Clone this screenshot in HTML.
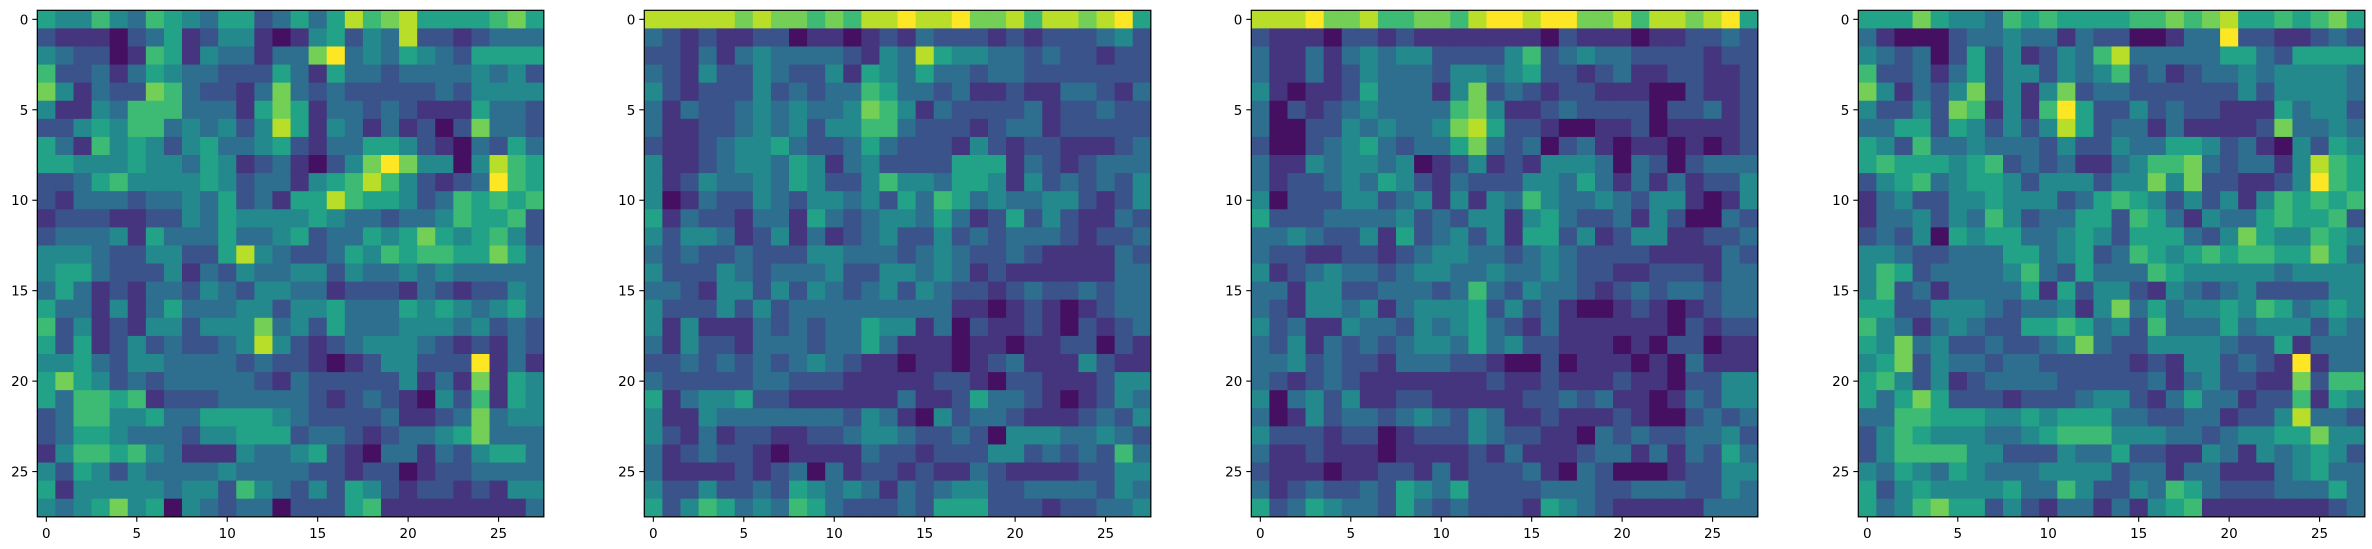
<!DOCTYPE html>
<html><head><meta charset="utf-8"><style>
html,body{margin:0;padding:0;background:#fff;}
svg{display:block;}
text{font-family:"DejaVu Sans","Liberation Sans",sans-serif;font-size:13.5px;fill:#000;}
</style></head><body>
<svg id="fig" width="2372" height="549" viewBox="0 0 2372 549" xmlns="http://www.w3.org/2000/svg"></svg>
<script>
const tickValues = [0,5,10,15,20,25];
const panelLefts = [37.3, 644.3, 1251.3, 1858.3];
const panel1 = [
[5,4,4,6,4,3,6,5,4,3,5,5,2,3,5,3,5,8,6,7,8,5,5,5,5,6,7,5],
[2,1,1,1,0,2,3,5,1,2,4,4,1,0,1,4,5,2,4,3,8,2,2,1,2,3,3,3],
[4,3,2,2,0,1,6,5,1,4,3,3,1,3,3,7,9,3,4,3,5,4,3,2,5,5,5,5],
[6,2,2,3,1,3,5,4,3,3,2,2,2,5,3,1,5,3,3,2,3,3,3,3,4,3,4,2],
[7,4,1,3,2,2,7,6,3,2,2,1,3,7,3,2,3,2,2,2,2,2,3,2,4,4,4,4],
[4,1,1,4,3,6,6,6,3,3,3,1,5,7,5,1,3,3,2,3,2,1,1,1,5,3,3,2],
[2,2,4,5,4,6,6,3,4,3,4,2,4,8,5,1,4,3,1,3,1,2,0,2,7,3,3,2],
[5,3,1,6,4,5,4,2,4,5,3,3,4,5,2,1,3,3,5,5,4,2,1,0,3,2,5,3],
[5,5,4,4,4,5,4,4,3,5,4,1,2,3,1,0,2,4,7,9,7,4,4,0,4,8,6,5],
[2,2,3,5,6,4,4,4,4,5,4,2,3,3,1,4,5,6,8,6,4,2,1,2,3,9,6,5],
[2,1,3,3,3,2,3,3,4,3,5,2,3,1,5,5,8,6,5,5,4,2,3,6,5,6,5,6],
[1,2,2,2,1,1,2,2,4,3,5,4,4,4,4,5,4,3,3,2,3,3,4,6,5,5,6,2],
[2,3,3,3,4,1,5,3,3,3,5,3,3,4,5,2,3,3,5,4,5,7,5,4,5,6,4,2],
[4,4,4,3,2,2,4,4,2,2,5,8,4,3,2,2,3,5,4,6,5,6,6,5,5,7,5,3],
[4,5,5,3,2,2,2,4,1,3,2,4,3,3,4,4,2,4,3,3,4,3,4,3,3,3,3,3],
[3,5,3,1,2,1,3,3,2,4,3,2,4,4,3,3,1,2,2,2,1,3,2,1,2,2,4,3],
[5,3,3,1,4,1,3,5,3,3,3,4,4,2,4,4,5,3,3,3,5,4,5,4,3,4,5,3],
[6,2,4,1,2,1,4,4,2,4,4,4,7,3,4,2,5,3,3,3,4,4,4,3,4,2,3,2],
[5,2,5,1,2,4,2,3,2,2,3,4,8,4,2,1,2,3,4,4,4,3,2,1,2,1,3,2],
[4,4,5,3,2,4,4,3,3,3,3,2,3,2,2,1,0,1,2,4,4,2,2,2,9,1,3,1],
[5,7,5,4,2,3,2,3,3,3,3,3,2,1,3,2,2,2,2,2,4,1,3,1,7,1,5,4],
[5,3,6,6,5,6,1,2,2,2,3,3,3,3,3,2,1,2,3,2,1,0,4,2,6,1,5,4],
[2,3,6,6,4,4,5,3,3,5,5,5,5,4,3,2,2,2,2,3,1,1,2,3,7,3,4,4],
[2,3,5,5,4,3,3,3,2,4,4,5,5,5,2,3,3,2,1,2,3,3,4,5,7,3,3,3],
[1,4,6,6,5,6,4,3,1,1,1,4,3,3,4,5,2,1,0,3,3,1,3,2,4,5,5,3],
[4,2,5,4,2,4,3,3,3,3,4,3,3,3,3,2,2,1,2,2,0,1,2,2,3,3,3,3],
[5,1,4,4,4,4,4,3,4,4,2,6,4,3,2,4,2,5,4,2,1,2,2,1,2,1,4,4],
[4,3,4,5,7,4,5,0,4,3,2,3,3,0,2,2,2,5,6,1,1,1,1,1,1,1,1,3]
];
const panel2 = [
[8,8,8,8,8,7,8,7,7,6,7,6,8,8,9,8,8,9,7,7,8,6,8,8,7,8,9,5],
[3,2,1,2,1,1,2,2,0,1,1,0,1,2,1,3,2,2,2,1,2,1,2,2,2,3,4,2],
[2,2,1,3,1,3,4,3,3,3,3,2,1,4,3,8,5,4,4,3,3,2,3,2,2,1,2,2],
[3,2,1,4,2,2,4,3,2,2,4,1,5,4,3,5,3,3,2,3,3,2,2,2,2,2,2,2],
[4,2,1,2,2,2,4,2,3,2,3,3,6,5,3,3,2,3,1,1,2,1,1,3,3,2,1,3],
[3,1,3,2,2,3,4,3,4,3,3,4,7,6,4,1,3,2,2,2,2,3,1,2,2,3,2,2],
[3,1,1,2,2,3,4,3,4,2,4,4,6,6,3,2,2,2,1,2,3,3,1,2,2,2,2,2],
[2,1,1,2,3,4,4,5,3,2,2,3,5,3,2,2,2,1,4,2,1,2,2,1,1,1,2,3],
[4,1,1,2,3,4,4,3,5,4,1,3,4,2,2,2,2,5,5,5,1,3,2,1,2,3,3,3],
[4,1,2,4,3,3,4,3,5,4,2,2,4,6,4,4,3,5,5,4,1,4,2,3,2,3,2,4],
[4,0,1,3,2,2,4,3,2,4,4,3,4,2,5,3,6,5,3,4,3,3,4,4,2,1,2,4],
[5,1,3,2,2,1,3,3,1,5,3,2,3,4,4,3,5,3,1,2,5,2,4,2,1,1,3,2],
[4,2,4,4,3,1,2,4,1,3,1,2,3,4,2,2,4,2,3,2,3,3,3,2,1,2,2,3],
[3,2,3,2,2,3,2,2,2,4,4,3,3,3,2,3,4,3,2,2,3,2,1,1,1,1,3,2],
[4,2,2,2,4,3,2,3,3,3,4,2,2,4,4,3,4,3,1,2,1,1,1,1,1,1,3,3],
[3,3,2,1,4,4,2,4,2,4,3,2,3,4,2,4,3,2,2,1,2,3,2,2,3,2,3,3],
[4,2,2,2,4,2,4,2,3,3,3,3,3,3,3,3,3,1,1,0,1,2,1,0,1,2,3,3],
[4,1,4,1,1,1,3,2,3,2,3,3,5,4,4,1,3,0,2,1,1,2,1,0,2,1,2,3],
[3,1,4,2,2,1,3,3,3,2,3,3,5,3,1,1,1,0,1,1,0,1,1,2,2,0,2,1],
[2,2,3,2,3,2,3,2,3,4,3,2,1,1,0,1,1,0,1,2,3,1,1,1,4,2,1,1],
[3,2,2,2,2,2,3,3,2,2,2,1,1,1,1,1,2,2,1,0,2,2,1,1,1,2,4,4],
[5,1,3,4,4,5,2,2,1,1,1,1,1,1,3,1,1,2,5,3,3,2,1,0,1,2,4,3],
[4,1,1,4,3,3,3,3,3,3,3,2,4,3,1,0,4,2,3,3,2,1,1,1,2,3,2,4],
[4,2,1,3,1,2,2,1,1,2,2,3,4,4,3,2,2,3,2,0,4,4,4,3,3,4,3,2],
[3,1,2,3,2,2,1,0,1,1,1,1,3,2,2,1,2,2,2,4,4,2,3,2,3,2,6,3],
[3,1,1,1,1,2,1,2,3,0,3,1,2,2,1,2,1,1,3,2,1,1,1,1,2,2,4,4],
[4,2,2,4,2,2,3,2,5,4,3,4,3,1,3,2,3,4,4,2,2,3,3,3,3,2,4,3],
[5,2,4,6,5,3,4,3,6,5,3,2,2,2,3,2,5,5,5,2,2,2,1,2,2,3,3,4]
];
const panel3 = [
[8,8,8,9,7,7,8,6,6,7,7,6,8,9,9,8,9,9,7,7,8,6,8,8,7,8,9,5],
[2,1,1,1,0,2,2,1,2,1,1,1,1,1,1,1,0,2,1,1,1,0,1,1,2,2,3,2],
[3,1,1,3,1,3,4,3,4,4,2,2,2,2,4,6,2,3,4,3,3,2,2,2,2,1,2,2],
[3,1,1,3,1,2,4,3,3,3,2,4,4,3,4,5,2,2,1,2,3,1,1,2,2,1,1,2],
[4,1,0,1,1,2,5,3,3,3,1,4,7,2,3,2,1,2,2,1,1,1,0,0,2,1,1,2],
[3,0,2,1,2,3,4,3,3,3,3,6,7,4,1,1,2,3,2,2,2,2,0,2,2,3,1,2],
[3,0,0,2,2,4,3,4,3,3,4,7,8,5,2,2,1,0,0,1,1,2,0,1,1,1,1,2],
[2,0,0,2,3,4,5,3,2,3,3,5,7,3,2,3,0,2,3,1,0,1,1,0,1,0,1,2],
[3,1,1,4,3,4,4,3,4,0,1,2,4,1,2,1,4,4,4,3,0,3,2,0,2,3,3,3],
[3,1,2,2,3,4,3,5,4,2,1,3,2,2,2,4,4,3,5,3,1,3,1,3,1,2,2,4],
[4,0,2,2,2,4,4,2,3,4,1,4,1,4,3,6,4,3,3,4,3,2,4,4,1,0,1,4],
[5,2,2,2,3,3,3,3,4,2,3,2,4,4,1,4,5,3,2,2,3,1,4,2,0,0,3,2],
[3,3,4,3,2,2,4,1,5,2,3,4,2,4,1,5,5,2,4,1,2,4,4,1,1,2,2,3],
[3,2,2,1,1,2,2,1,2,3,4,4,3,3,2,3,4,3,2,2,2,2,1,1,1,1,3,2],
[4,1,2,3,4,3,3,2,3,4,4,3,3,4,3,3,4,3,2,2,1,1,2,2,2,1,3,3],
[3,3,1,4,4,2,2,3,3,3,2,3,6,3,2,4,3,3,2,1,2,3,2,3,3,2,3,3],
[3,2,1,4,4,3,4,1,3,4,4,4,5,2,4,2,3,1,0,0,1,2,1,0,1,2,3,3],
[4,2,3,1,1,4,3,3,2,4,3,4,5,3,2,1,3,1,1,1,1,1,1,0,2,1,2,2],
[3,2,4,1,3,2,3,2,3,4,4,3,5,3,4,2,2,1,1,1,0,1,0,2,2,0,1,1],
[3,3,4,2,3,2,2,1,3,3,3,2,2,1,0,0,2,0,1,1,1,0,1,0,3,1,1,1],
[3,2,1,2,3,2,1,1,1,1,1,1,1,2,1,1,2,1,1,1,2,1,1,0,2,2,4,4],
[4,0,3,4,2,4,1,1,2,2,1,1,1,1,1,2,2,3,2,3,1,1,0,1,3,2,4,4],
[3,0,1,4,2,3,3,2,3,4,3,2,4,3,1,1,2,1,1,1,2,1,0,0,2,3,2,3],
[4,2,2,2,1,2,2,0,1,2,2,2,4,3,2,2,1,1,0,3,2,3,2,2,3,3,4,2],
[3,1,1,2,1,1,1,0,1,1,1,1,2,1,3,1,1,1,2,3,3,1,3,1,3,2,5,3],
[2,1,1,1,0,1,1,2,2,1,3,1,2,2,2,3,1,0,3,2,0,0,0,1,2,2,4,4],
[3,1,2,3,2,2,3,2,5,4,3,5,2,2,2,2,3,3,3,2,2,3,3,3,2,2,4,3],
[5,2,3,5,4,3,3,2,5,3,2,3,2,2,2,1,5,4,3,2,1,1,1,1,1,3,3,3]
];
const panel4 = [
[5,5,5,7,5,4,4,3,6,5,6,5,5,5,5,6,6,7,6,7,8,5,5,6,5,6,7,5],
[3,1,0,0,0,2,3,3,4,3,3,1,3,2,2,0,0,1,3,3,9,2,2,1,1,2,3,2],
[4,3,2,3,0,2,5,2,4,1,2,4,3,6,8,3,3,3,3,3,5,5,3,2,5,5,5,5],
[6,2,2,3,1,3,5,2,4,4,2,4,3,4,6,2,3,1,2,3,3,4,3,4,4,4,4,3],
[7,4,1,3,2,4,7,2,4,1,4,7,2,3,3,2,2,2,2,2,2,4,2,4,4,4,4,3],
[4,2,2,4,2,7,6,1,4,1,6,9,5,2,2,4,2,3,2,2,1,1,1,5,3,4,4,2],
[3,3,5,5,2,5,4,2,4,2,4,8,5,2,3,3,1,3,1,1,1,1,2,7,3,3,4,3],
[5,4,2,6,3,3,4,3,3,3,2,4,2,2,4,3,3,5,5,4,2,3,1,0,4,2,5,4],
[5,6,5,5,5,4,5,6,2,3,2,3,1,1,3,4,6,6,7,3,2,3,3,1,4,8,6,5],
[2,4,5,6,3,4,5,5,4,2,4,4,4,2,4,4,7,4,7,2,2,1,1,2,4,9,6,5],
[1,3,4,2,2,4,4,5,4,4,4,2,3,5,6,5,4,2,4,2,4,1,4,6,5,6,5,6],
[1,3,3,4,2,4,3,6,4,2,3,3,5,5,2,6,5,3,1,4,3,3,5,6,5,5,6,2],
[2,3,2,4,0,5,4,5,5,3,3,4,5,4,2,5,5,5,3,2,4,7,5,4,4,6,5,4],
[4,4,3,2,2,3,3,3,5,5,3,4,5,2,3,6,5,4,5,6,5,6,6,5,5,7,5,3],
[4,6,5,2,3,3,3,3,4,6,3,2,5,3,3,3,6,5,4,4,4,4,4,3,4,4,4,4],
[4,6,2,3,1,3,3,3,3,5,1,5,2,4,4,2,1,4,3,2,3,4,2,2,2,2,4,4],
[5,5,2,2,4,4,4,3,2,3,3,4,1,4,7,3,5,3,4,4,5,4,6,5,3,4,5,4],
[6,4,3,1,3,4,3,2,2,5,5,6,5,3,4,2,6,3,3,3,5,3,4,4,4,2,4,3],
[5,4,7,3,4,2,2,3,2,2,3,4,7,3,2,2,4,4,4,4,3,2,2,5,1,3,3,3],
[4,5,7,2,4,3,3,2,3,3,2,2,2,2,2,1,2,1,4,4,2,3,2,1,9,1,3,3],
[5,6,4,2,4,1,2,3,3,3,3,2,2,2,2,2,3,1,3,4,2,2,1,1,7,2,6,6],
[5,3,5,7,5,2,2,2,1,2,2,2,3,4,4,2,1,3,5,3,3,1,2,2,6,1,5,4],
[3,3,6,6,5,5,5,4,4,5,4,5,5,5,3,3,2,2,3,3,1,2,2,4,8,3,3,2],
[2,4,6,5,4,4,4,3,3,4,5,6,6,6,4,4,4,3,3,2,3,4,4,5,5,7,4,4],
[2,4,6,6,6,6,4,4,2,2,2,4,3,3,5,2,2,1,1,4,3,1,4,3,4,5,4,2],
[4,3,5,4,3,5,4,3,3,3,4,4,4,4,2,3,3,1,3,3,1,1,1,3,4,5,3,3],
[5,2,4,5,4,4,4,4,5,3,3,6,4,2,2,4,3,6,5,3,2,2,2,3,3,3,5,3],
[5,3,4,6,7,5,5,2,4,2,1,3,3,1,3,1,4,5,6,1,1,1,1,1,1,1,2,3]
];
const panels = [panel1, panel2, panel3, panel4];

const NS = 'http://www.w3.org/2000/svg';
const svg = document.getElementById('fig');
const TOP = 10.3, SIZE = 506.5, N = 28, VMAX = 9;
const cell = SIZE / N;
const viridis = ['#440154','#482475','#414487','#355f8d','#2a788e','#21918c','#22a884','#44bf70','#7ad151','#bddf26','#fde725'];
function hex(c){return [parseInt(c.slice(1,3),16),parseInt(c.slice(3,5),16),parseInt(c.slice(5,7),16)];}
function color(v){
  const t = Math.max(0, Math.min(1, (v + 0.4) / (VMAX + 0.4))) * (viridis.length - 1);
  const i = Math.min(Math.floor(t), viridis.length - 2), f = t - i;
  const a = hex(viridis[i]), b = hex(viridis[i+1]);
  return 'rgb(' + a.map((x,k)=>Math.round(x + (b[k]-x)*f)).join(',') + ')';
}
function mk(tag, attrs){const e=document.createElementNS(NS,tag);for(const k in attrs)e.setAttribute(k,attrs[k]);return e;}

panels.forEach((data, p) => {
  const left = panelLefts[p];
  const xScale = c => left + c * cell;
  const yScale = r => TOP + r * cell;
  const g = mk('g', {});
  
  
  svg.appendChild(g);
  data.forEach((row, r) => row.forEach((v, c) => {
    const rect = mk('rect', {x: xScale(c), y: yScale(r), width: cell + 0.6, height: cell + 0.6, fill: color(v)});
    
    
    g.appendChild(rect);
  }));
  const frame = mk('rect', {x: left, y: TOP, width: SIZE, height: SIZE, fill: 'none', stroke: '#000', 'stroke-width': 1.2});
  
  
  g.appendChild(frame);
  tickValues.forEach(t => {
    const cx = xScale(t + 0.5), cy = yScale(t + 0.5);
    const xt = mk('line', {x1: cx, x2: cx, y1: TOP + SIZE, y2: TOP + SIZE + 5, stroke: '#000', 'stroke-width': 1.1});
    
    
    g.appendChild(xt);
    const xl = mk('text', {x: cx, y: TOP + SIZE + 21, 'text-anchor': 'middle'});
    xl.textContent = t;
    
    
    g.appendChild(xl);
    const yt = mk('line', {x1: left - 5, x2: left, y1: cy, y2: cy, stroke: '#000', 'stroke-width': 1.1});
    
    
    g.appendChild(yt);
    const yl = mk('text', {x: left - 9, y: cy + 5, 'text-anchor': 'end'});
    yl.textContent = t;
    
    
    g.appendChild(yl);
  });
});
</script>
</body></html>
